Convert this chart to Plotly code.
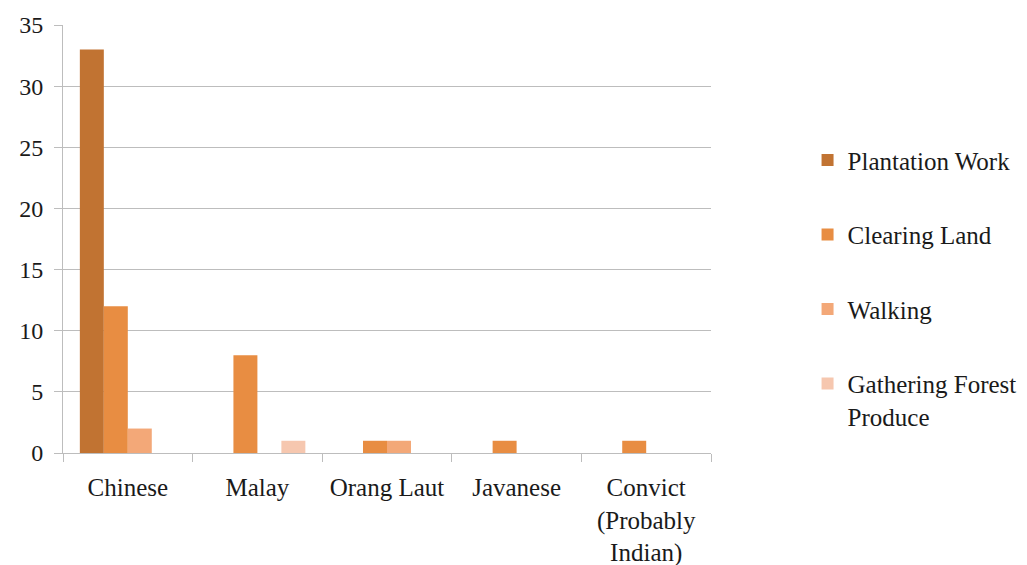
import plotly.graph_objects as go

categories = ["Chinese", "Malay", "Orang Laut", "Javanese", "Convict<br>(Probably<br>Indian)"]
series_names = ["Plantation Work", "Clearing Land", "Walking", "Gathering Forest<br>Produce"]
plantation = [33, 0, 0, 0, 0]
clearing = [12, 8, 1, 1, 1]
walking = [2, 0, 1, 0, 0]
gathering = [0, 1, 0, 0, 0]
y_ticks = [0, 5, 10, 15, 20, 25, 30, 35]

colors = ["#C17332", "#E88D42", "#F3A878", "#F6C7AF"]
values = [plantation, clearing, walking, gathering]

FONT = "Liberation Serif"
TXT = "#1a1a1a"
GRID = "#BDBDBD"

fig = go.Figure()
for i, (name, vals, c) in enumerate(zip(series_names, values, colors)):
    fig.add_trace(go.Bar(
        x=categories, y=vals, name=name, marker_color=c,
        marker_line_width=0, legendgroup=f"g{i}",
    ))

fig.update_layout(
    width=1027, height=565,
    margin=dict(l=63, r=316, t=25, b=112, autoexpand=False),
    plot_bgcolor="white", paper_bgcolor="white",
    barmode="group", bargap=0.26, bargroupgap=0,
    font=dict(family=FONT, size=25, color=TXT),
    legend=dict(
        x=1.149, xanchor="left", y=0.738, yanchor="top",
        tracegroupgap=39, traceorder="grouped", valign="top",
        font=dict(family=FONT, size=25, color=TXT),
    ),
    xaxis=dict(
        showline=True, linecolor=GRID, linewidth=1,
        ticks="outside", tickson="boundaries", ticklen=8, tickcolor=GRID,
        ticklabelstandoff=12, automargin=False,
        tickfont=dict(family=FONT, size=25, color=TXT),
    ),
    yaxis=dict(
        range=[0, 35], tickvals=y_ticks,
        showline=True, linecolor=GRID, linewidth=1,
        showgrid=True, gridcolor=GRID, gridwidth=1,
        ticks="outside", ticklen=8, tickcolor=GRID,
        ticklabelstandoff=6, automargin=False,
        tickfont=dict(family=FONT, size=24, color=TXT),
        zeroline=False,
    ),
)

fig.write_html("out.html")
